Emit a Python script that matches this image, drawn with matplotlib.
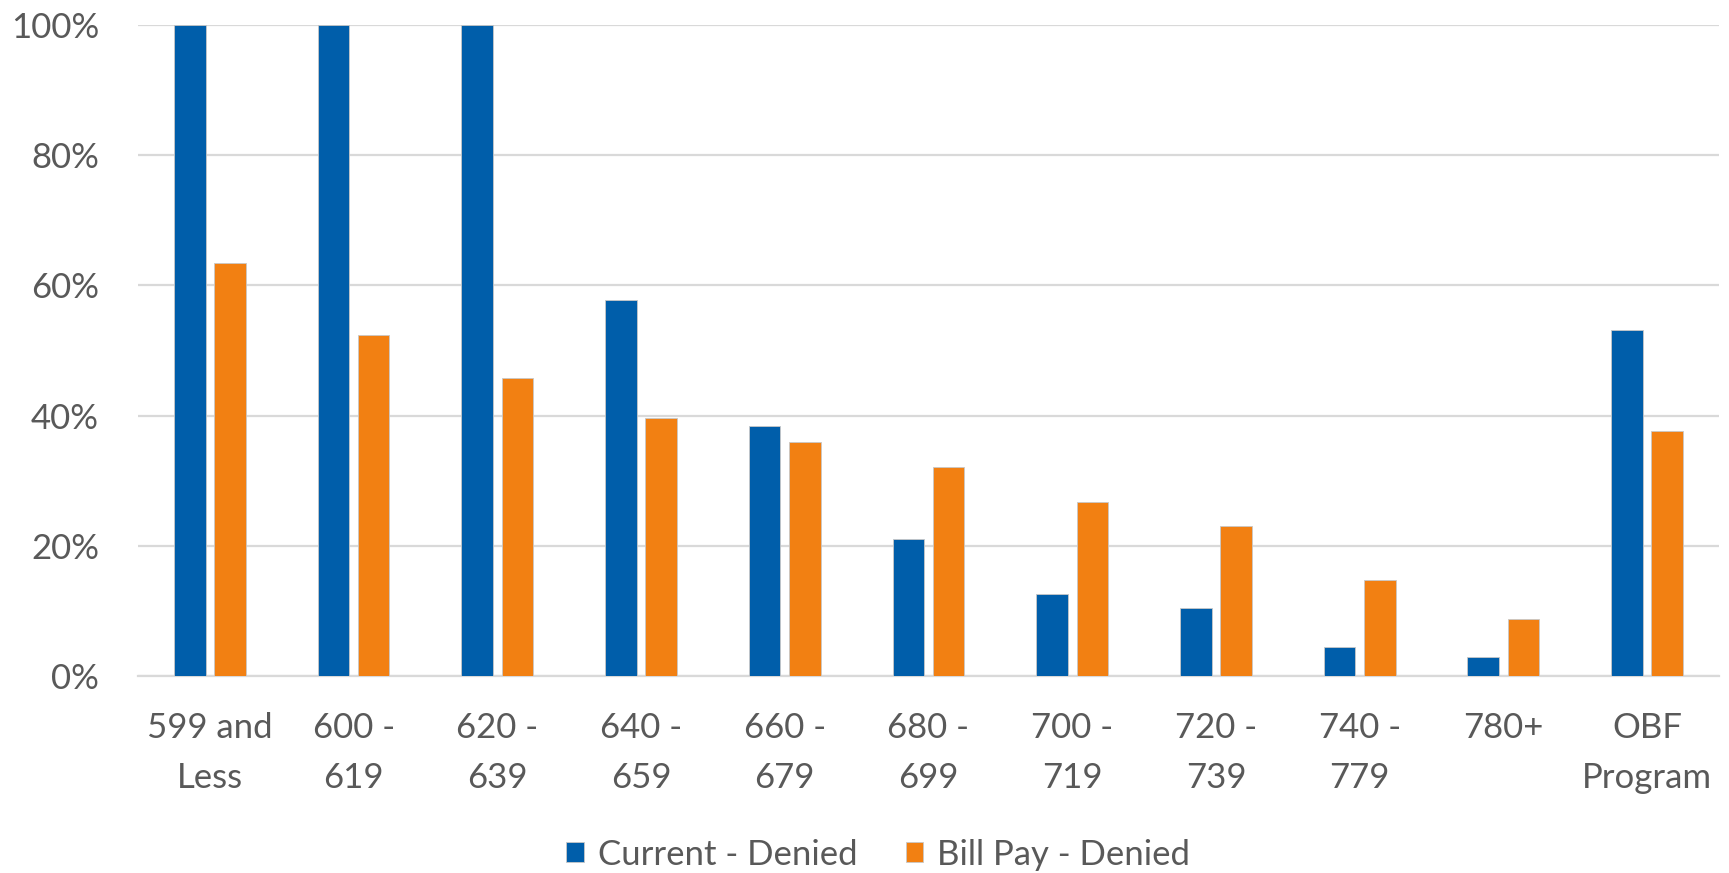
import matplotlib
matplotlib.use("Agg")
import matplotlib.pyplot as plt
import numpy as np
from matplotlib.ticker import PercentFormatter

categories = ["599 and\nLess", "600 -\n619", "620 -\n639", "640 -\n659", "660 -\n679",
              "680 -\n699", "700 -\n719", "720 -\n739", "740 -\n779", "780+", "OBF\nProgram"]
current_denied = [100, 100, 100, 57.7, 38.4, 21.1, 12.6, 10.4, 4.4, 2.9, 53.1]
billpay_denied = [63.5, 52.3, 45.8, 39.6, 36.0, 32.1, 26.7, 23.1, 14.8, 8.8, 37.7]
series_names = ["Current - Denied", "Bill Pay - Denied"]

BLUE = "#005EAA"
ORANGE = "#F28012"
TEXT = "#595959"
GRID = "#D9D9D9"

plt.rcParams.update({
    "font.family": ["Lato", "DejaVu Sans"],
    "font.size": 25,
})

fig = plt.figure(figsize=(17.29, 8.73), dpi=100)
ax = fig.add_axes([0.0798, 0.2257, 0.9144, 0.7457])

x = np.arange(len(categories))
w = 0.22
ax.bar(x - 0.14, current_denied, w, color=BLUE, edgecolor="#C8C8C8", lw=0.6,
       label=series_names[0], zorder=3)
ax.bar(x + 0.14, billpay_denied, w, color=ORANGE, edgecolor="#C8C8C8", lw=0.6,
       label=series_names[1], zorder=3)

ax.set_xlim(-0.5, len(categories) - 0.5)
ax.set_ylim(0, 100)
ax.set_yticks(range(0, 101, 20))
ax.yaxis.set_major_formatter(PercentFormatter(decimals=0))
ax.grid(axis="y", color=GRID, lw=1.6, zorder=0)
for s in ["top", "right", "left"]:
    ax.spines[s].set_visible(False)
ax.spines["bottom"].set_color(GRID)
ax.spines["bottom"].set_linewidth(1.6)

ax.set_xticks(x)
ax.set_xticklabels(categories, linespacing=1.7)
ax.tick_params(axis="x", length=0, pad=26, colors=TEXT, labelsize=25)
ax.tick_params(axis="y", length=0, pad=28, colors=TEXT, labelsize=25)

fig.legend(loc="lower center", bbox_to_anchor=(0.508, -0.033), ncol=2, frameon=False,
           fontsize=25, labelcolor=TEXT, handlelength=0.5, handleheight=0.5,
           handletextpad=0.4, columnspacing=1.4)

fig.savefig("out.png", dpi=100)
